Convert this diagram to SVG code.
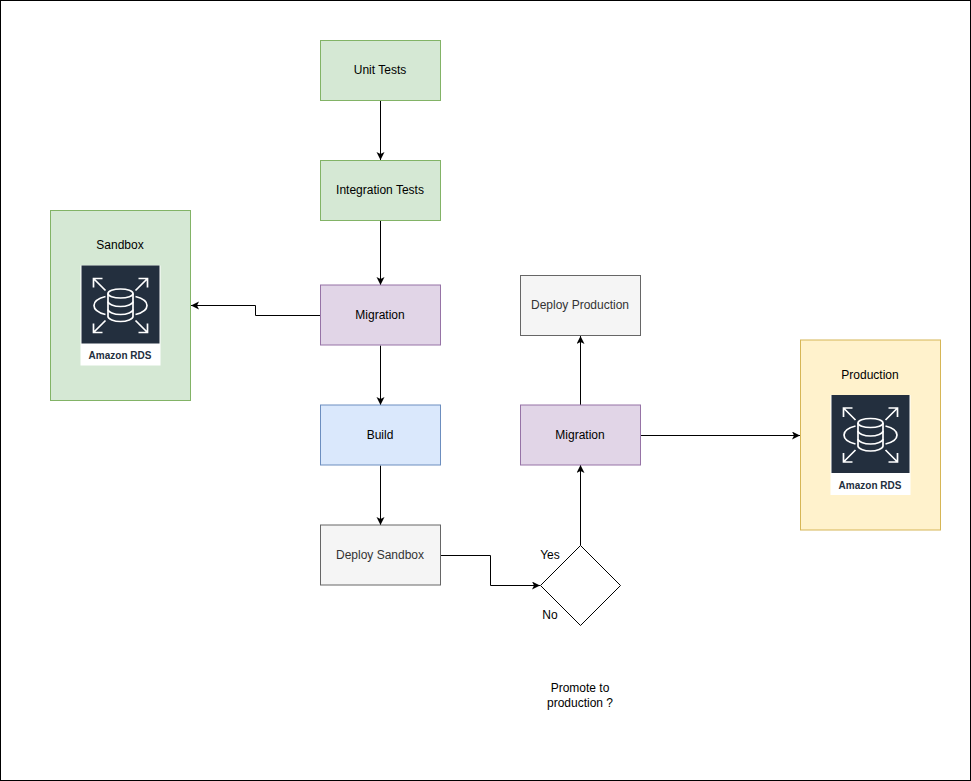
<svg xmlns="http://www.w3.org/2000/svg" width="971" height="781" viewBox="0 0 971 781">
<style>
text{font-family:"Liberation Sans",Arial,sans-serif;font-size:12px;fill:#000;text-anchor:middle}
.dim{fill:#333}
.c{fill:none;stroke:#000;stroke-width:1}
.g{fill:#d5e8d4;stroke:#82b366}
.p{fill:#e1d5e7;stroke:#9673a6}
.b{fill:#dae8fc;stroke:#6c8ebf}
.w{fill:#f5f5f5;stroke:#666}
.y{fill:#fff2cc;stroke:#d6b656}
.ic{fill:none;stroke:#fff;stroke-width:1.7}
.rl{font-size:10px;font-weight:bold;fill:#232f3e}
</style>
<defs>
<marker id="a" markerWidth="10" markerHeight="10" refX="8" refY="4" orient="auto" markerUnits="userSpaceOnUse"><path d="M0 0L8 4L0 8L2 4Z" fill="#000"/></marker>
<g id="rds">
<rect x="0" y="0" width="80" height="100" fill="#fff"/>
<rect x="1" y="0" width="78" height="78" fill="#232f3e"/>
<g class="ic">
<path d="M25 31C17 33 13.500 36 13.500 40S17 47 25 49M55 31C63 33 66.500 36 66.500 40S63 47 55 49"/>
<path d="M27.500 28v23c0 2.500 6 5 12.500 5s12.500-2.500 12.500-5V28"/>
<ellipse cx="40" cy="28" rx="12.500" ry="4.500"/>
<path d="M27.500 36c0 2.500 6 5 12.500 5s12.500-2.500 12.500-5M27.500 44c0 2.500 6 5 12.500 5s12.500-2.500 12.500-5"/>
<path d="M13 13L25 25M13 22V13H22M67 13L55 25M67 22V13H58M13 67L25 55M13 58V67H22M67 67L55 55M67 58V67H58"/>
</g>
<text class="rl" x="39.500" y="93.500">Amazon RDS</text>
</g>
</defs>
<rect x="0.5" y="0.5" width="970" height="780" fill="#fff" stroke="#000"/>
<g id="connectors">
<path class="c" marker-end="url(#a)" d="M380.500 100.500V160"/>
<path class="c" marker-end="url(#a)" d="M380.500 220.500V285"/>
<path class="c" marker-end="url(#a)" d="M320.500 315.500H255.500V305.500H191"/>
<path class="c" marker-end="url(#a)" d="M380.500 345.500V405"/>
<path class="c" marker-end="url(#a)" d="M380.500 465.500V525"/>
<path class="c" marker-end="url(#a)" d="M440.500 555.500H490.500V585.500H540"/>
<path class="c" marker-end="url(#a)" d="M580.500 545.500V465"/>
<path class="c" marker-end="url(#a)" d="M580.500 405.500V336"/>
<path class="c" marker-end="url(#a)" d="M640.500 435.500H800"/>
</g>
<g id="unit-tests"><rect class="g" x="320.500" y="40.500" width="120" height="60"/><text x="380" y="73.500">Unit Tests</text></g>
<g id="integration-tests"><rect class="g" x="320.500" y="160.500" width="120" height="60"/><text x="380" y="193.500">Integration Tests</text></g>
<g id="sandbox"><rect class="g" x="50.500" y="210.500" width="140" height="190"/><text x="120" y="249">Sandbox</text><use href="#rds" x="80.500" y="265.500"/></g>
<g id="migration-1"><rect class="p" x="320.500" y="285" width="120" height="60"/><text x="380" y="318.500">Migration</text></g>
<g id="build"><rect class="b" x="320.500" y="405" width="120" height="60"/><text x="380" y="438.500">Build</text></g>
<g id="deploy-sandbox"><rect class="w" x="320.500" y="525" width="120" height="60"/><text class="dim" x="380" y="558.500">Deploy Sandbox</text></g>
<g id="deploy-production"><rect class="w" x="520.500" y="275.500" width="120" height="60"/><text class="dim" x="580" y="308.500">Deploy Production</text></g>
<g id="migration-2"><rect class="p" x="520.500" y="405" width="120" height="60"/><text x="580" y="438.500">Migration</text></g>
<g id="production"><rect class="y" x="800.500" y="340" width="140" height="190"/><text x="870" y="379">Production</text><use href="#rds" x="830.500" y="395"/></g>
<g id="decision"><path d="M580.500 545.500L620.500 585.500L580.500 625.500L540.500 585.500Z" fill="#fff" stroke="#000"/>
<text x="550" y="559">Yes</text><text x="550" y="619">No</text>
<text x="580" y="692">Promote to</text><text x="580" y="707">production ?</text></g>
</svg>
